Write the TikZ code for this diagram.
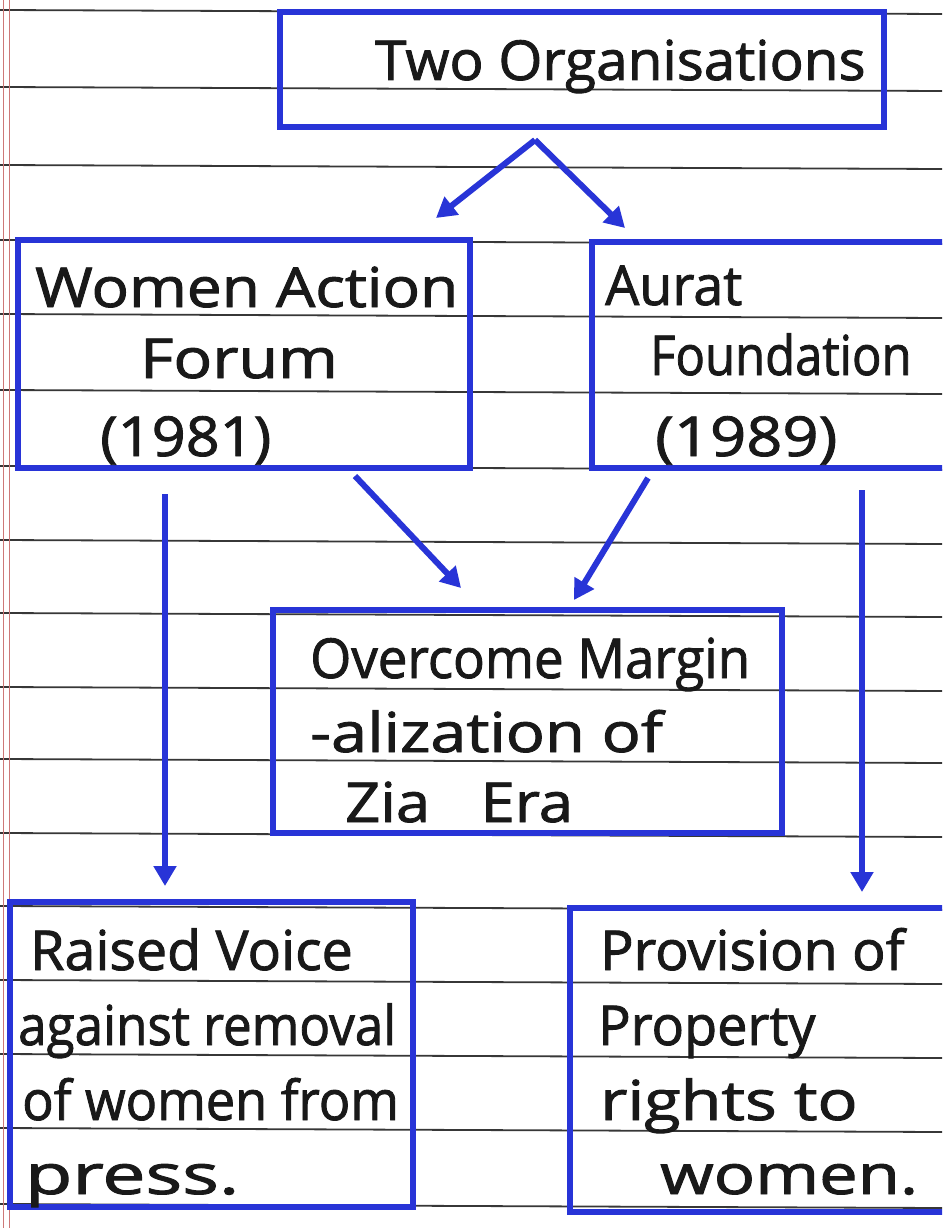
\documentclass[tikz,border=0pt]{standalone}
\usepackage{fontspec}
\usepackage{graphicx}
\setmainfont{Open Sans}
\newfontfamily\handfont{Open Sans}[FakeBold=1.6]
\usetikzlibrary{arrows.meta}
\definecolor{ink}{RGB}{40,52,215}
\definecolor{rule}{RGB}{55,55,55}
\definecolor{margin}{RGB}{205,120,120}
\newcommand{\hw}[2]{\scalebox{#1}[1]{#2}}
\tikzset{
  box/.style={draw=ink, line width=6.5pt, rectangle, inner sep=0pt},
  hand/.style={anchor=base west, inner sep=0pt, font=\handfont\fontsize{55}{55}\selectfont, text=black!90},
  arr/.style={draw=ink, line width=6pt, -{Triangle[width=22pt,length=20pt]}},
  ruled/.style={draw=rule, line width=1.8pt},
}
\begin{document}
\begin{tikzpicture}[x=1pt,y=-1pt]
\clip (0,0) rectangle (942,1228);
\fill[white] (0,0) rectangle (942,1228);
% notebook ruling
\foreach \yy in {10,87,165,240,314,390,466,540,613,687,759,833,906,980,1054,1128,1204}
  \draw[ruled] (0,\yy) -- (942,\yy+4);
\draw[margin, line width=1pt] (3,0) -- (3,1228);
\draw[margin, line width=1pt] (9,0) -- (9,1228);

% boxes
\node[box, minimum width=604pt, minimum height=115pt] (top) at (582,69.5) {};
\node[box, minimum width=452pt, minimum height=228pt] (waf) at (244,354) {};
\node[box, minimum width=360pt, minimum height=226pt] (af) at (772,355) {};
\node[box, minimum width=509pt, minimum height=223pt] (mid) at (527.5,721.5) {};
\node[box, minimum width=403pt, minimum height=305pt] (rv) at (211.5,1054.5) {};
\node[box, minimum width=380pt, minimum height=304pt] (pr) at (760,1060) {};

% texts
\node[hand] (t0) at (375,80) {\hw{1.03}{Two Organisations}};
\node[hand] (w1) at (35,307) {\hw{1.13}{Women Action}};
\node[hand] (w2) at (140,378) {\hw{1.17}{Forum}};
\node[hand] (w3) at (100,456) {\hw{1.08}{(1981)}};
\node[hand] (a1) at (605,305) {\hw{0.98}{Aurat}};
\node[hand] (a2) at (650,375) {\hw{0.89}{Foundation}};
\node[hand] (a3) at (655,456) {\hw{1.15}{(1989)}};
\node[hand] (m1) at (310,678) {\hw{0.96}{Overcome Margin}};
\node[hand] (m2) at (310,752) {\hw{1.18}{-alization of}};
\node[hand] (m3) at (345,822) {\hw{1.12}{Zia\hspace{45pt}Era}};
\node[hand] (r1) at (30,970) {\hw{1.01}{Raised Voice}};
\node[hand] (r2) at (18,1045) {\hw{0.93}{against removal}};
\node[hand] (r3) at (22,1120) {\hw{0.95}{of women from}};
\node[hand] (r4) at (25,1194) {\hw{1.40}{press.}};
\node[hand] (p1) at (600,970) {\hw{1.01}{Provision of}};
\node[hand] (p2) at (598,1045) {\hw{0.98}{Property}};
\node[hand] (p3) at (600,1120) {\hw{1.21}{rights to}};
\node[hand] (p4) at (660,1194) {\hw{1.25}{women.}};

% connector end points
\coordinate (apex) at (535,140);
\coordinate (tl) at (436,218);
\coordinate (tr) at (625,228);
\coordinate (ws) at (355,476);
\coordinate (we) at (461,588);
\coordinate (as) at (648,478);
\coordinate (ae) at (574,600);
\coordinate (ls) at (165,494);
\coordinate (le) at (165,886);
\coordinate (rs) at (862,490);
\coordinate (re) at (862,892);

\draw[arr] (apex) -- (tl);
\draw[arr] (apex) -- (tr);
\draw[arr] (ws) -- (we);
\draw[arr] (as) -- (ae);
\draw[arr] (ls) -- (le);
\draw[arr] (rs) -- (re);
\end{tikzpicture}
\end{document}
